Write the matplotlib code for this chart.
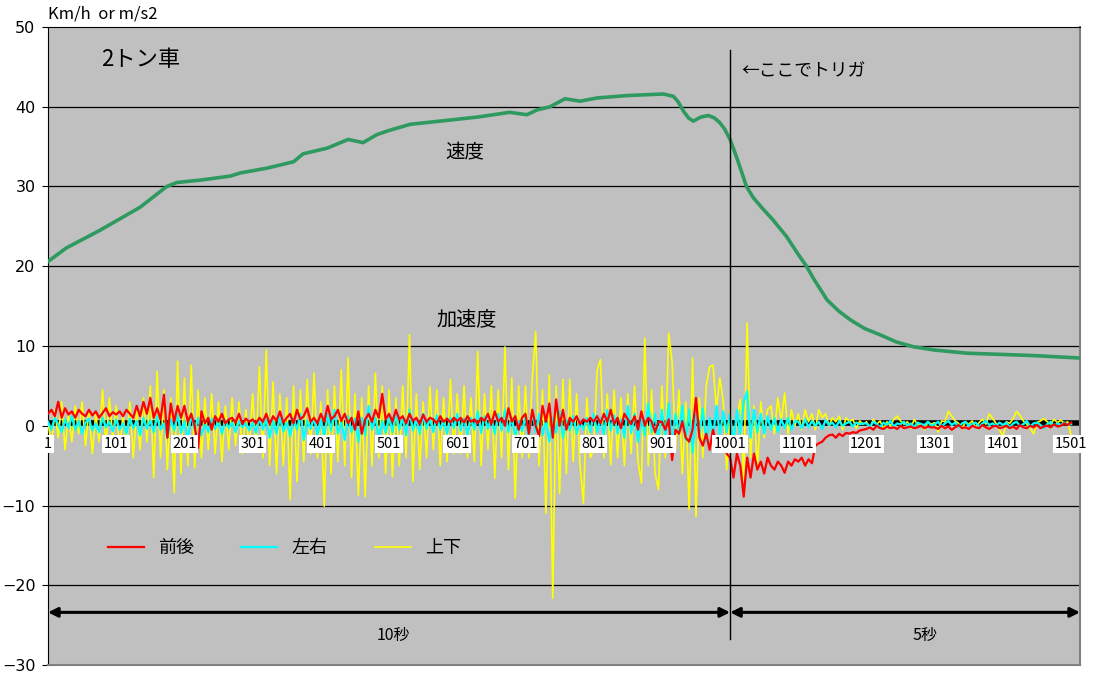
import numpy as np
import matplotlib.pyplot as plt

plt.rcParams['font.family'] = ['Noto Sans CJK JP', 'DejaVu Sans']

# speed (km/h), read at these sample numbers
speed_s = [1, 28, 77, 136, 175, 190, 224, 268, 283, 322, 361, 375, 410, 441, 463,
           483, 500, 532, 576, 630, 678, 703, 718, 737, 759, 781, 806, 849, 903,
           918, 925, 933, 940, 947, 958, 969, 978, 986, 993, 1001, 1010, 1018, 1025,
           1035, 1048, 1064, 1084, 1100, 1113, 1123, 1143, 1160, 1177, 1198, 1221,
           1245, 1270, 1300, 1348, 1446, 1512]
speed_v = [20.6, 22.3, 24.5, 27.4, 30.0, 30.5, 30.8, 31.3, 31.7, 32.3, 33.1, 34.1,
           34.8, 35.9, 35.5, 36.5, 37.0, 37.8, 38.2, 38.7, 39.3, 39.0, 39.6, 40.0,
           41.0, 40.7, 41.1, 41.4, 41.6, 41.3, 40.6, 39.4, 38.6, 38.2, 38.7, 38.9,
           38.6, 38.0, 37.2, 35.9, 33.8, 31.8, 30.0, 28.6, 27.3, 25.8, 23.7, 21.6,
           20.0, 18.5, 15.8, 14.4, 13.3, 12.2, 11.4, 10.5, 9.9, 9.5, 9.1, 8.8, 8.5]

# acceleration (m/s2), one value every 5 samples from 1 to 1501
accel_ud = [  # 上下
    0.5, -2.5, 2.0, -1.5, 3.0, -3.0, 1.5, -2.0, 2.5, -1.0, 3.0, -2.5, 2.0, -3.5, 1.5, -2.0, 4.5, -2.5, 3.5, -1.5,
    2.5, -3.0, 1.5, -2.5, 3.0, -4.0, 2.0, -3.0, 3.5, -2.0, 5.0, -6.5, 6.8, -4.0, 4.5, -5.5, 3.5, -8.4, 8.1, -6.0,
    6.0, -5.0, 7.6, -5.3, 4.5, -4.0, 3.5, -3.0, 4.0, -3.5, 3.0, -4.5, 2.5, -3.0, 3.5, -2.5, 3.0, -3.5, 2.0, -3.0,
    4.0, -3.0, 7.4, -4.0, 9.5, -5.0, 5.5, -6.0, 4.0, -5.0, 3.5, -9.3, 5.0, -7.0, 4.5, -4.5, 5.8, -3.5, 6.6, -4.0,
    3.0, -10.1, 4.5, -6.0, 5.0, -4.5, 7.0, -5.0, 8.5, -6.5, 4.0, -8.7, 3.5, -8.9, 5.0, -5.0, 6.6, -4.0, 5.0, -6.0,
    4.5, -6.4, 3.5, -5.0, 5.0, -4.0, 11.4, -7.0, 4.0, -5.5, 3.0, -4.0, 4.9, -3.0, 4.5, -5.0, 3.5, -4.5, 5.8, -3.5,
    4.0, -3.5, 5.0, -4.0, 3.5, -4.5, 9.3, -5.0, 4.0, -3.0, 5.0, -6.6, 4.5, -4.0, 9.9, -5.5, 6.0, -9.1, 5.0, -4.0,
    5.0, -4.0, 6.0, 11.8, -5.0, 4.5, -11.0, 6.4, -21.6, 5.0, -8.5, 5.8, -6.0, 5.8, -4.5, 4.0, -5.0, -9.7, 3.5, -4.0,
    -3.0, 6.9, 8.3, -4.0, 4.0, -4.9, 4.5, -4.0, 3.5, -5.0, 4.0, -3.5, 5.0, -4.5, -7.2, 11.0, -5.0, 4.5, -6.0, -8.0,
    5.0, -4.0, 11.6, 8.0, -3.0, 4.5, -6.0, 3.0, -10.5, 8.5, -11.4, 3.5, -4.0, 5.0, 7.4, 7.6, 2.0, 6.0, 3.0, -5.5,
    2.0, -3.0, 1.0, 3.3, -6.8, 12.9, -4.0, 2.5, -5.5, 3.0, -1.5, 2.0, 2.5, -1.0, 3.5, 0.5, 4.1, -1.0, 2.0, 0.0,
    1.5, -0.5, 2.0, 0.5, 1.5, -0.5, 2.0, 1.0, 1.5, 0.0, 1.0, 0.5, 1.2, -0.5, 1.0, 0.5, 0.8, -0.3, 0.6, 0.2,
    0.5, -0.3, 0.8, 0.2, 0.6, -0.4, 0.5, 0.0, 0.8, 1.2, 0.6, 0.2, 0.5, -0.3, 0.8, 0.1, 0.3, -0.5, 0.5, 0.2,
    0.4, -0.8, 0.6, 0.5, 1.8, 1.2, 0.6, 0.3, -0.4, 0.5, 0.2, 0.6, -0.2, 0.4, 0.8, 0.2, 1.5, 0.9, 0.3, -0.5,
    -1.4, 0.5, 0.3, 0.9, 1.8, 1.3, 0.6, 0.2, -0.3, -1.0, 0.4, 0.6, 0.9, 0.5, 0.2, 0.8, 0.4, 0.7, 0.3, 0.5,
    -1.2]

accel_lr = [  # 左右
    0.5, -0.5, 1.0, 0.2, -0.8, 0.8, -0.3, 1.2, -0.5, 0.6, -1.0, 0.4, 0.9, -0.6, 0.3, -0.8, 1.0, -0.2, 0.5, -0.7,
    0.8, -0.5, 0.3, -1.0, 0.9, -0.3, 0.6, -1.2, 1.0, -0.4, 0.7, -0.8, 1.2, -0.5, 0.3, -1.5, 0.8, -0.6, 1.4, -0.9,
    0.6, -1.8, 1.5, -0.5, 1.0, -1.2, 0.3, -0.8, 0.9, -0.4, 0.5, -1.0, 0.7, -0.3, 0.4, -0.8, 0.6, -0.2, 0.3, -0.6,
    0.5, -0.9, 1.0, -0.5, 0.8, -1.5, 0.6, -1.0, 1.2, -0.7, 0.4, -1.3, 0.9, -0.5, 1.5, -1.8, 0.7, -0.4, 1.0, -1.2,
    0.8, -1.5, 1.5, -0.6, 2.0, -1.0, 0.5, -1.8, 1.2, -0.8, 0.9, -2.0, 1.0, -1.2, 2.5, -0.5, 1.0, -1.5, 0.6, -0.9,
    1.2, -0.8, 1.8, -0.5, 1.0, -1.2, 2.0, -0.6, 0.8, -1.0, 1.5, -0.4, 0.9, -0.8, 1.3, -0.5, 0.6, -1.0, 1.0, -0.3,
    1.5, -0.6, 0.9, -1.2, 1.0, -0.5, 1.8, -0.9, 1.2, -0.4, 0.8, -1.0, 1.5, -0.6, 2.0, -0.8, 1.0, -1.5, 0.6, -0.7,
    1.2, -1.8, 2.0, -0.8, 1.5, -1.2, 0.8, -2.0, 1.0, -0.9, 1.8, -1.5, 0.7, -0.6, 1.2, -1.0, 0.6, -0.5, 1.0, -0.8,
    1.5, -0.8, 1.0, -1.2, 2.0, -0.6, 1.3, -1.0, 0.8, -1.5, 2.5, -0.9, 1.5, -2.0, 1.0, -1.2, 2.8, -0.8, 1.5, -1.8,
    2.0, -1.5, 2.8, -2.5, 1.5, -1.0, 2.5, -1.8, 2.0, -3.4, 1.5, -1.0, 2.2, -2.0, 1.0, -1.5, 2.5, -1.2, 1.8, -0.8,
    1.5, -2.5, 2.0, -1.0, 3.0, 4.3, -1.5, 2.0, -0.8, 1.5, -1.0, 1.2, -0.5, 1.0, -0.8, 0.8, -0.3, 1.0, -0.5, 0.6,
    0.5, -0.3, 0.8, -0.2, 0.6, 0.0, 0.5, -0.4, 0.7, 0.1, 0.4, -0.2, 0.6, 0.0, 0.3, 0.5, -0.1, 0.4, 0.2, 0.3,
    0.3, -0.1, 0.5, 0.2, -0.2, 0.4, 0.1, 0.6, -0.1, 0.3, 0.2, 0.5, 0.0, 0.3, -0.2, 0.4, 0.2, 0.1, 0.5, 0.0,
    0.2, 0.5, -0.1, 0.3, 0.6, 0.1, 0.4, -0.2, 0.3, 0.5, 0.0, 0.2, 0.4, -0.1, 0.3, 0.6, 0.1, 0.3, 0.0, 0.4,
    0.1, 0.4, -0.2, 0.3, 0.5, 0.0, 0.2, 0.6, -0.1, 0.3, 0.4, 0.1, -0.3, 0.2, 0.5, 0.0, 0.3, 0.1, 0.4, 0.2,
    0.2]

accel_fb = [  # 前後
    1.5, 2.0, 1.2, 3.0, 1.0, 2.2, 1.4, 1.8, 1.0, 2.0, 1.5, 1.2, 2.0, 1.3, 1.8, 1.0, 1.6, 2.2, 1.2, 1.7,
    1.4, 1.8, 1.2, 2.0, 1.5, 1.0, 2.5, 1.2, 3.0, 1.5, 3.5, 1.0, 2.2, 0.8, 3.9, -1.5, 2.8, 0.5, 2.5, 1.0,
    2.5, 0.5, 1.5, 0.0, -2.8, 1.8, 0.3, 1.0, -0.5, 1.2, 0.5, 1.5, 0.3, 0.8, 1.0, 0.4, 1.5, 0.2, 0.9, 0.5,
    0.8, 0.3, 1.0, 0.5, 1.5, 0.2, 1.2, 0.6, 1.8, 0.4, 1.0, 1.5, 0.3, 2.0, 0.8, 1.2, 2.2, 0.5, 1.0, 0.3,
    1.5, 0.5, 2.5, 0.8, 1.2, 2.0, 0.6, 1.5, 0.3, 1.0, -0.5, 1.8, -1.0, 0.8, 1.5, 0.5, 2.0, 1.0, 4.0, 0.8,
    1.5, 0.5, 2.0, 0.8, 1.2, 0.3, 1.5, 0.6, 1.0, 0.2, 1.4, 0.5, 1.0, 0.8, 0.3, 1.2, 0.5, 0.9, 0.4, 1.0,
    0.6, 1.0, 0.4, 1.2, 0.5, 0.8, 0.3, 1.0, 0.6, 1.5, 0.2, 1.8, 0.5, 1.0, 0.0, 2.2, 0.5, 1.2, -0.5, 1.0,
    1.5, -1.0, 2.0, 0.0, -1.3, 2.5, 0.5, 2.8, -1.5, 3.3, 0.0, 2.0, -0.5, 1.0, 0.5, 1.2, 0.2, 0.8, 0.5, 1.0,
    0.5, 1.2, 0.3, 1.5, 0.5, 2.0, 0.2, 1.0, -0.3, 1.5, 0.8, 0.2, 1.2, -0.5, 1.8, 0.0, 1.0, 0.5, -0.8, 0.5,
    0.5, -0.5, 0.8, -4.3, -0.5, -1.0, 0.5, -1.5, -2.0, -0.5, 3.5, -1.5, -2.5, -1.0, -3.0, -0.5, -2.4, -3.0, -1.5, -3.5,
    -4.0, -6.5, -3.5, -5.0, -8.9, -4.0, -6.5, -3.5, -5.5, -4.5, -6.0, -4.0, -5.0, -5.5, -4.5, -5.0, -5.9, -4.5, -5.0, -4.2,
    -4.5, -4.0, -5.0, -4.2, -4.7, -2.5, -2.2, -2.0, -1.5, -1.2, -1.1, -1.5, -1.0, -1.3, -0.9, -1.0, -0.8, -0.9, -0.6, -0.5,
    -0.4, -0.2, -0.5, 0.0, -0.3, -0.4, -0.1, -0.3, -0.2, -0.4, 0.0, -0.3, -0.2, -0.1, -0.3, -0.2, 0.0, -0.3, -0.1, -0.2,
    -0.2, -0.4, 0.0, -0.3, -0.1, -0.5, -0.2, 0.1, -0.3, -0.2, -0.4, 0.0, -0.2, -0.3, 0.1, -0.2, -0.4, -0.1, 0.0, -0.3,
    -0.2, 0.0, -0.3, -0.1, -0.4, 0.1, -0.2, -0.3, 0.0, -0.2, 0.1, -0.3, -0.1, 0.0, -0.2, 0.2, -0.1, 0.0, 0.3, 0.1,
    0.4]

accel_s = np.arange(1, 1502, 5)
tick_samples = list(range(1, 1502, 100))
y_ticks = [-30, -20, -10, 0, 10, 20, 30, 40, 50]
trigger = 1001

fig = plt.figure(figsize=(10.95, 6.75), dpi=100)
ax = fig.add_axes([48 / 1095, 10 / 675, 1032 / 1095, 638 / 675])
ax.set_facecolor('#c0c0c0')
ax.set_xlim(1, 1514)
ax.set_ylim(-30, 50)

for g in [-20, -10, 10, 20, 30, 40]:
    ax.axhline(g, color='black', lw=0.9, zorder=1)

# category axis at zero (dense tick marks look like a thick band)
ax.axhline(0.35, color='black', lw=4, zorder=2)

ax.plot(accel_s, accel_ud, color='#ffff00', lw=1.2, zorder=3, label='上下')
ax.plot(accel_s, accel_lr, color='#00ffff', lw=1.6, zorder=4, label='左右')
ax.plot(accel_s, accel_fb, color='#ff0000', lw=1.6, zorder=5, label='前後')
ax.plot(speed_s, speed_v, color='#2f9a60', lw=2.6, zorder=6)

ax.plot([trigger, trigger], [-26.7, 47.1], color='black', lw=1, zorder=7)

for s in tick_samples:
    ax.text(s, -1.4, str(s), ha='center', va='top', fontsize=10.5, zorder=8,
            bbox=dict(facecolor='white', edgecolor='none', pad=1.2))

ax.set_xticks([])
ax.set_yticks(y_ticks)
ax.set_yticklabels([str(v).replace('-', '\u2212') for v in y_ticks], fontsize=11.5,
                   family=['DejaVu Sans'])
ax.tick_params(axis='y', direction='out', length=4, pad=5)

ax.spines['left'].set_color('black')
ax.spines['top'].set_color('black')
ax.spines['right'].set_color('#808080')
ax.spines['bottom'].set_color('#808080')
ax.spines['right'].set_linewidth(1.5)
ax.spines['bottom'].set_linewidth(1.5)

# duration arrows
arrow = dict(arrowstyle='<|-|>', color='black', lw=2.2, mutation_scale=14,
             shrinkA=0, shrinkB=0)
ax.annotate('', xy=(1, -23.4), xytext=(trigger, -23.4), arrowprops=arrow, zorder=7)
ax.annotate('', xy=(trigger, -23.4), xytext=(1514, -23.4), arrowprops=arrow, zorder=7)
ax.text(507, -26.3, '10秒', ha='center', va='center', fontsize=11.5)
ax.text(1287, -26.3, '5秒', ha='center', va='center', fontsize=11.5)

ax.text(79, 45.9, '2トン車', ha='left', va='center', fontsize=16)
ax.text(1017, 44.4, '←ここでトリガ', ha='left', va='center', fontsize=12.8)
ax.text(612, 34.2, '速度', ha='center', va='center', fontsize=14)
ax.text(615, 13.3, '加速度', ha='center', va='center', fontsize=14.5)

fig.text(48 / 1095, 1 - 14 / 675, 'Km/h  or m/s2', ha='left', va='center', fontsize=12)

h, l = ax.get_legend_handles_labels()
ax.legend(h[::-1], l[::-1], loc='center left', bbox_to_anchor=(0.058, 0.183),
          ncol=3, frameon=False, fontsize=13, handlelength=2.0,
          handletextpad=0.8, columnspacing=2.6, borderpad=0, borderaxespad=0)

fig.savefig('out.png', dpi=100)
